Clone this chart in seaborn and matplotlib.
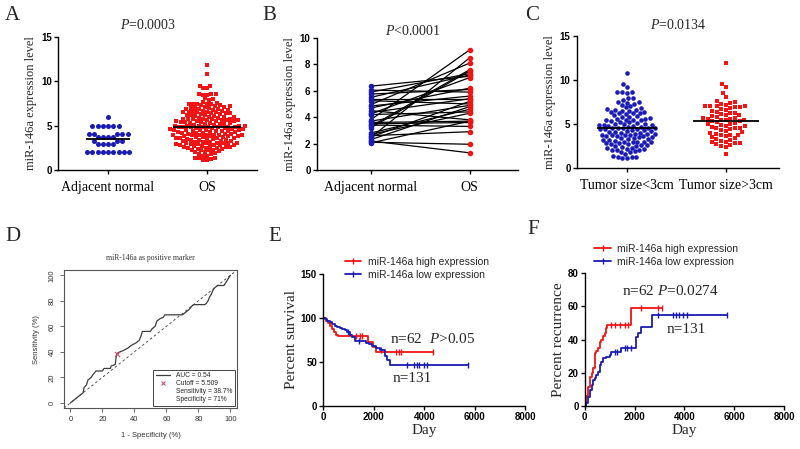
import numpy as np
import pandas as pd
import seaborn as sns
import matplotlib.pyplot as plt
from matplotlib.lines import Line2D

### --- data --- ###
# A: scatter dot plot
adj_normal = [6.0, 5.0, 5.0, 5.0, 5.0, 5.0, 5.0, 4.1, 4.1, 4.1, 4.1, 4.1,
              3.7, 3.7, 3.7, 3.7, 3.3, 3.3, 3.3, 2.9, 2.9, 2.9, 2.9,
              2.0, 2.0, 2.0, 2.0, 2.0, 2.0, 2.0, 2.0, 2.0]

# C: tumour size groups (A "OS" = both groups together)
tumor_small = [10.8, 9.5, 9.2, 8.6, 8.6, 8.5, 8.6, 8.0, 7.9, 7.7, 7.5, 7.5, 7.4, 7.3, 7.2,
               6.9, 6.7, 6.6, 6.6, 6.5, 6.5, 6.4, 6.3, 6.2, 6.1, 6.0, 5.9, 5.8, 5.7, 5.6,
               5.6, 5.5, 5.5, 5.4, 5.3, 5.2, 5.2, 5.1, 5.0, 5.0, 4.9, 4.9, 4.8, 4.8, 4.7,
               4.6, 4.6, 4.5, 4.5, 4.4, 4.4, 4.3, 4.3, 4.2, 4.2, 4.1, 4.0, 4.0, 3.9, 3.9,
               3.8, 3.8, 3.7, 3.7, 3.6, 3.6, 3.5, 3.5, 3.4, 3.4, 3.3, 3.2, 3.2, 3.1, 3.0,
               3.0, 2.9, 2.9, 2.8, 2.8, 2.7, 2.7, 2.6, 2.5, 2.5, 2.4, 2.3, 2.3, 2.2, 2.1,
               2.0, 2.0, 1.9, 1.8, 1.8, 1.6, 1.4, 1.3, 1.2, 1.1, 1.1, 1.3, 6.8, 6.2, 5.8,
               5.4, 5.0, 4.7, 4.4, 4.1, 3.9, 3.6, 3.3, 3.0, 2.6, 2.2, 7.0, 6.4, 4.9, 4.5]
tumor_large = [11.9, 9.5, 9.2, 8.5, 8.1, 7.6, 7.5, 7.4, 7.3, 7.2, 7.1, 7.1, 7.0, 7.0, 6.9,
               6.9, 6.8, 6.7, 6.5, 6.4, 6.3, 6.2, 6.1, 6.0, 6.0, 5.9, 5.8, 5.7, 5.7, 5.6,
               5.5, 5.5, 5.4, 5.3, 5.3, 5.2, 5.1, 5.0, 5.0, 4.9, 4.8, 4.8, 4.7, 4.6, 4.5,
               4.4, 4.3, 4.2, 4.1, 4.0, 3.9, 3.8, 3.8, 3.7, 3.6, 3.5, 3.4, 3.3, 3.2, 3.0,
               2.9, 2.8, 2.8, 2.7, 2.6, 2.5, 2.4, 1.6, 6.6, 5.6, 4.5, 3.1]
os_expr = tumor_small + tumor_large

# B: paired samples
b_normal = [6.35, 6.05, 5.9, 5.75, 5.5, 5.4, 5.25, 4.95, 4.85, 4.7, 4.5, 4.35, 4.25, 4.2, 3.8,
            3.7, 3.6, 3.5, 3.4, 3.3, 3.2, 2.8, 2.7, 2.6, 2.5, 2.45, 2.3, 2.2, 2.1, 2.05]
b_os = [7.1, 5.9, 7.3, 6.1, 7.2, 5.4, 5.0, 8.1, 5.6, 6.2, 3.8, 5.4, 7.0, 4.4, 9.1,
        4.9, 3.7, 3.6, 3.3, 7.6, 7.5, 4.6, 4.3, 2.9, 5.2, 8.5, 4.8, 1.3, 1.95, 3.7]

# D: ROC curve (1 - specificity %, sensitivity %)
roc_fpr = [0, 8, 8.5, 10, 11, 13, 14, 16, 20, 21, 25, 25.5, 28, 28.5, 29, 31, 33, 36, 38, 41,
           43, 44, 45, 50, 51, 53, 54, 56, 58, 59, 70, 72, 74, 76, 77, 84, 85, 86, 87, 88,
           89, 90, 91, 92, 96, 98, 100]
roc_tpr = [0, 8, 12, 14, 18, 20, 22, 25, 25, 27, 27, 29, 30, 35, 38.7, 40, 41, 43, 45, 47,
           49, 52, 56, 56, 58, 60, 64, 66, 67, 69, 69, 71, 73, 76, 77, 77, 78, 80, 83, 85,
           88, 90, 91, 92, 92, 96, 100]
cutoff_fpr, cutoff_sens = 29, 38.7

# E: overall survival
hi_surv_t = [0, 130, 200, 280, 350, 420, 500, 575, 1650, 1760, 1960, 2090, 4360]
hi_surv_p = [100, 97, 94, 91, 88, 84, 81, 79, 79, 73, 67, 61, 61]
hi_surv_cens_t = [1300, 1450, 1550, 2900, 3000, 3100, 4360]
hi_surv_cens_p = [79, 79, 79, 61, 61, 61, 61]
lo_surv_t = [0, 60, 150, 250, 350, 450, 550, 650, 750, 850, 950, 1050, 1150, 1250, 1700, 1800,
             1950, 2100, 2250, 2430, 2520, 2640, 5730]
lo_surv_p = [100, 99, 97, 95, 93, 91, 90, 89, 88, 86, 84, 81, 78, 74, 72, 70, 68, 66, 64,
             57, 52, 46.5, 46.5]
lo_surv_cens_t = [1000, 1400, 2300, 3330, 3600, 3700, 3800, 4000, 4130, 5730]
lo_surv_cens_p = [84, 74, 64, 46.5, 46.5, 46.5, 46.5, 46.5, 46.5, 46.5]

# F: recurrence
hi_rec_t = [0, 60, 130, 200, 270, 330, 400, 460, 530, 600, 670, 730, 800, 860, 900, 1840, 3100]
hi_rec_p = [0, 6, 11.5, 17.5, 19.6, 23, 31.6, 33, 34.7, 38.7, 39.7, 42, 43.8, 46.8, 49, 59, 59]
hi_rec_cens_t = [1070, 1200, 1400, 1600, 1730, 2270, 2930, 3100]
hi_rec_cens_p = [49, 49, 49, 49, 49, 59, 59, 59]
lo_rec_t = [0, 60, 133, 200, 270, 333, 400, 466, 533, 600, 666, 733, 866, 1000, 1066, 1466,
            2040, 2066, 2150, 2266, 2680, 5730]
lo_rec_p = [0, 2, 5.4, 9.5, 12.5, 15.5, 17, 18.5, 20.6, 24.6, 26.6, 28.6, 29.6, 30.6, 32.7,
            34.7, 39.7, 41.7, 44, 47.8, 54.8, 54.8]
lo_rec_cens_t = [1200, 1300, 1600, 1700, 1850, 2930, 3530, 3670, 3800, 3930, 4100, 5730]
lo_rec_cens_p = [32.7, 32.7, 34.7, 34.7, 34.7, 54.8, 54.8, 54.8, 54.8, 54.8, 54.8, 54.8]

BLUE = '#1a1ab4'
RED = '#f01414'
SERIF = 'Liberation Serif'

sns.set_theme(style="ticks")
plt.rcParams['font.family'] = ['Liberation Sans', 'DejaVu Sans']
plt.rcParams['mathtext.fontset'] = 'custom'
plt.rcParams['mathtext.rm'] = 'Liberation Serif'
plt.rcParams['mathtext.it'] = 'Liberation Serif:italic'


def prism(ax):
    # GraphPad look: left/bottom axes, bold tick numbers
    sns.despine(ax=ax)
    for s in ['left', 'bottom']:
        ax.spines[s].set_color('black')
        ax.spines[s].set_linewidth(1.0)
    ax.tick_params(length=3, width=1, colors='black', labelsize=7, pad=1.5)
    for lab in ax.get_yticklabels() + ax.get_xticklabels():
        lab.set_fontweight('bold')


def dotplot(ax, groups, names, markers, colors, sizes, line_w):
    for vals, name, m, c, s in zip(groups, names, markers, colors, sizes):
        df = pd.DataFrame({'group': name, 'value': vals})
        sns.swarmplot(data=df, x='group', y='value', order=names, ax=ax,
                      marker=m, color=c, size=s, linewidth=0)
    for i, vals in enumerate(groups):
        ax.hlines(np.mean(vals), i - line_w[i], i + line_w[i], color='black', lw=1.3, zorder=5)
    ax.set_ylim(0, 15)
    ax.set_yticks([0, 5, 10, 15])
    ax.set_xlabel('')
    ax.set_ylabel('miR-146a expression level', family=SERIF, fontsize=9, labelpad=3)
    prism(ax)
    ax.set_xticks([0, 1])
    ax.set_xticklabels(names, family=SERIF, fontsize=10, fontweight='normal')
    ax.tick_params(axis='x', pad=5)


fig = plt.figure(figsize=(8, 4.49), dpi=100)

### --- A --- ###
axA = fig.add_axes([0.0725, 0.6214, 0.249, 0.296])
dotplot(axA, [adj_normal, os_expr], ['Adjacent normal', 'OS'], ['o', 's'],
        [BLUE, RED], [3.6, 2.9], [0.22, 0.34])
axA.set_xlim(-0.505, 1.505)
axA.text(0.45, 1.09, r'$\it{P}$=0.0003', transform=axA.transAxes, ha='center', va='center',
         family=SERIF, fontsize=10)

### --- B --- ###
axB = fig.add_axes([0.396, 0.6214, 0.251, 0.294])
pairs = pd.DataFrame({'pair': list(range(len(b_normal))) * 2,
                      'pos': [0] * len(b_normal) + [1] * len(b_os),
                      'value': b_normal + b_os})
sns.lineplot(data=pairs, x='pos', y='value', units='pair', estimator=None,
             color='black', lw=0.9, ax=axB)
sns.scatterplot(x=[0] * len(b_normal), y=b_normal, color=BLUE, s=16, linewidth=0, ax=axB, zorder=3)
sns.scatterplot(x=[1] * len(b_os), y=b_os, color=RED, s=16, linewidth=0, ax=axB, zorder=3)
axB.set_xlim(-0.545, 1.485)
axB.set_ylim(0, 10)
axB.set_yticks([0, 2, 4, 6, 8, 10])
axB.set_xlabel('')
axB.set_ylabel('miR-146a expression level', family=SERIF, fontsize=9, labelpad=3)
prism(axB)
axB.set_xticks([0, 1])
axB.set_xticklabels(['Adjacent normal', 'OS'], family=SERIF, fontsize=10, fontweight='normal')
axB.tick_params(axis='x', pad=5)
axB.text(0.48, 1.05, r'$\it{P}$<0.0001', transform=axB.transAxes, ha='center', va='center',
         family=SERIF, fontsize=10)

### --- C --- ###
axC = fig.add_axes([0.721, 0.6258, 0.2525, 0.294])
dotplot(axC, [tumor_small, tumor_large], ['Tumor size<3cm', 'Tumor size>3cm'], ['o', 's'],
        [BLUE, RED], [3.3, 3.4], [0.3, 0.33])
axC.set_xlim(-0.505, 1.535)
axC.text(0.5, 1.08, r'$\it{P}$=0.0134', transform=axC.transAxes, ha='center', va='center',
         family=SERIF, fontsize=10)

### --- D: ROC (R style) --- ###
axD = fig.add_axes([0.08, 0.0913, 0.216, 0.307])
GREY = '#3c3c3c'
sns.lineplot(x=roc_fpr, y=roc_tpr, sort=False, estimator=None, color=GREY, lw=0.9, ax=axD)
axD.axline((0, 0), (100, 100), ls=(0, (3, 3)), color=GREY, lw=0.6)
sns.scatterplot(x=[cutoff_fpr], y=[cutoff_sens], marker='x', color='#c8506e', s=14,
                linewidth=0.8, ax=axD, zorder=4)
axD.set_xlim(-4, 104)
axD.set_ylim(-4, 104)
axD.set_xticks(range(0, 101, 20))
axD.set_yticks(range(0, 101, 20))
for s in axD.spines.values():
    s.set_color('#555555')
    s.set_linewidth(0.8)
axD.tick_params(length=3, width=0.6, colors='#555555', labelcolor='#333333', labelsize=5.5, pad=3)
for lab in axD.get_yticklabels():
    lab.set_rotation(90)
    lab.set_va('center')
axD.set_xlabel('1 - Specificity (%)', fontsize=5.5, color='#333333', labelpad=6)
axD.set_ylabel('Sensitivity (%)', fontsize=5.5, color='#333333', labelpad=6)
axD.set_title('miR-146a as positive marker', family=SERIF, fontsize=5.5, color='#333333', pad=7)
d_handles = [Line2D([], [], color=GREY, lw=0.9),
             Line2D([], [], ls='none', marker='x', color='#c8506e', ms=3, mew=0.8),
             Line2D([], [], ls='none'), Line2D([], [], ls='none')]
d_labels = ['AUC = 0.54', 'Cutoff = 5.509', 'Sensitivity = 38.7%', 'Specificity = 71%']
leg = axD.legend(d_handles, d_labels, loc='lower right', fontsize=4.8, fancybox=False,
                 edgecolor='#444444', framealpha=1, borderaxespad=0.3, handlelength=2.2,
                 labelspacing=0.15, borderpad=0.4)
leg.get_frame().set_linewidth(0.7)


def km(ax, t_hi, p_hi, ct_hi, cp_hi, t_lo, p_lo, ct_lo, cp_lo):
    sns.lineplot(x=t_hi, y=p_hi, drawstyle='steps-post', sort=False, estimator=None,
                 color=RED, lw=1.3, ax=ax)
    sns.lineplot(x=t_lo, y=p_lo, drawstyle='steps-post', sort=False, estimator=None,
                 color=BLUE, lw=1.3, ax=ax)
    sns.scatterplot(x=ct_hi, y=cp_hi, marker='|', color=RED, s=22, linewidth=1.0, ax=ax)
    sns.scatterplot(x=ct_lo, y=cp_lo, marker='|', color=BLUE, s=22, linewidth=1.0, ax=ax)
    ax.set_xlim(0, 8000)
    ax.set_xticks(range(0, 8001, 2000))
    ax.set_xlabel('Day', family=SERIF, fontsize=11, labelpad=1)


km_handles = [Line2D([], [], color=RED, lw=1.3, marker='|', ms=4, mew=1),
              Line2D([], [], color=BLUE, lw=1.3, marker='|', ms=4, mew=1)]
km_labels = ['miR-146a high expression', 'miR-146a low expression']

### --- E --- ###
axE = fig.add_axes([0.404, 0.0958, 0.2525, 0.294])
km(axE, hi_surv_t, hi_surv_p, hi_surv_cens_t, hi_surv_cens_p,
   lo_surv_t, lo_surv_p, lo_surv_cens_t, lo_surv_cens_p)
axE.set_ylim(0, 150)
axE.set_yticks([0, 50, 100, 150])
axE.set_ylabel('Percent survival', family=SERIF, fontsize=11, labelpad=2)
prism(axE)
axE.legend(km_handles, km_labels, loc='upper left', bbox_to_anchor=(0.06, 1.2), frameon=False,
           fontsize=7.5, handlelength=1.6, labelspacing=0.25, handletextpad=0.6)
axE.text(2650, 76, r'n=62  $\it{P}$>0.05', family=SERIF, fontsize=11, va='center')
axE.text(2750, 31, 'n=131', family=SERIF, fontsize=11, va='center')

### --- F --- ###
axF = fig.add_axes([0.731, 0.0958, 0.249, 0.296])
km(axF, hi_rec_t, hi_rec_p, hi_rec_cens_t, hi_rec_cens_p,
   lo_rec_t, lo_rec_p, lo_rec_cens_t, lo_rec_cens_p)
axF.set_ylim(0, 80)
axF.set_yticks([0, 20, 40, 60, 80])
axF.set_ylabel('Percent recurrence', family=SERIF, fontsize=11, labelpad=2)
prism(axF)
axF.legend(km_handles, km_labels, loc='upper left', bbox_to_anchor=(0.0, 1.29), frameon=False,
           fontsize=7.5, handlelength=1.6, labelspacing=0.25, handletextpad=0.6)
axF.text(1480, 69, r'n=62 $\it{P}$=0.0274', family=SERIF, fontsize=11, va='center')
axF.text(3280, 46, 'n=131', family=SERIF, fontsize=11, va='center')

### --- panel letters --- ###
for letter, (px, py) in {'A': (12, 15), 'B': (269, 15), 'C': (532, 15),
                         'D': (13, 237), 'E': (275, 237), 'F': (533, 230)}.items():
    fig.text(px / 800, 1 - py / 449, letter, ha='center', va='center', family=SERIF, fontsize=15)

fig.savefig('out.png', dpi=100)
